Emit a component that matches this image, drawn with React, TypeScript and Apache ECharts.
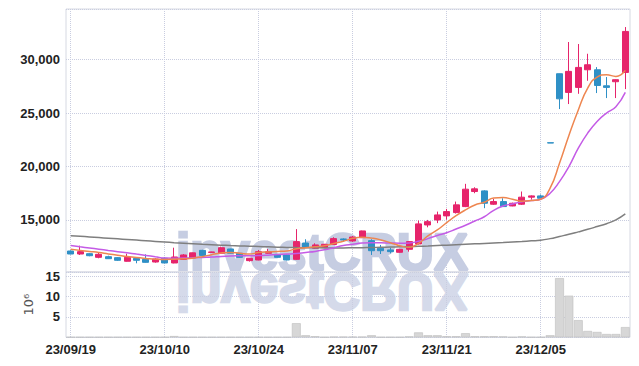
import React, { useEffect, useRef } from "react";
import * as echarts from "echarts";

const dates = ['23/09/19','23/09/20','23/09/21','23/09/22','23/09/25','23/09/26','23/09/27','23/10/04','23/10/05','23/10/06','23/10/10','23/10/11','23/10/12','23/10/13','23/10/16','23/10/17','23/10/18','23/10/19','23/10/20','23/10/23','23/10/24','23/10/25','23/10/26','23/10/27','23/10/30','23/10/31','23/11/01','23/11/02','23/11/03','23/11/06','23/11/07','23/11/08','23/11/09','23/11/10','23/11/13','23/11/14','23/11/15','23/11/16','23/11/17','23/11/20','23/11/21','23/11/22','23/11/23','23/11/24','23/11/27','23/11/28','23/11/29','23/11/30','23/12/01','23/12/04','23/12/05','23/12/06','23/12/07','23/12/08','23/12/11','23/12/12','23/12/13','23/12/14','23/12/15','23/12/18'];

const opens = [12090,11810,11840,11500,11560,11470,11130,11400,11310,11060,11410,10970,11300,11430,12150,11960,11880,12280,11880,11190,11250,11880,11780,11720,11310,12840,12350,12440,12700,13220,13030,13340,13060,12350,12190,11970,12250,12750,14530,15000,15380,15690,16250,17660,17720,16470,16720,16310,16470,17130,17250,22230,28690,26940,27410,29060,29060,27560,27940,28810];
const closes = [11810,12030,11650,11780,11370,11220,11500,11220,11030,11340,10970,11530,11720,11920,11680,12000,12400,11880,11500,11410,12030,12030,11500,11250,12970,12440,12660,12720,13250,13130,13400,13970,12120,12120,12030,12250,12970,14630,14840,15470,15780,16410,17880,17910,16560,16720,16250,16560,17130,17250,17030,22200,26340,28910,29280,29530,27590,27410,28130,32650];
const lows = [11780,11720,11600,11410,11340,11160,11100,10940,11000,11000,10940,10940,11250,11400,11650,11930,11850,11850,11470,11100,11220,11850,11470,11220,11250,12400,12300,12400,12660,12970,12950,13300,11720,11810,11870,11940,12030,12700,14310,14700,15030,15600,16200,17500,16100,16410,16220,16280,16400,16900,17000,22200,25380,25850,26810,28030,26880,26410,26410,27250];
const highs = [12150,12590,11900,11900,11650,11530,11840,11470,11780,11400,11500,12400,11800,11950,12200,12020,12500,12300,11900,11440,12190,12280,11800,11750,14140,13190,12810,12750,13380,13280,13500,14000,13190,12660,12400,12280,13000,14940,15000,15780,16030,16720,18380,18060,17780,16970,17030,16620,17660,17300,17380,22230,28700,31660,31470,30560,29310,28380,28160,33060];

const maShort = [12250,12150,12050,11950,11820,11700,11580,11480,11400,11330,11300,11320,11360,11420,11560,11750,11900,11960,11880,11800,11950,12000,12050,12100,12300,12400,12480,12590,12800,13000,13280,13380,13300,13130,12870,12590,12440,12810,13500,14060,14750,15400,15940,16400,16650,17050,17090,16940,16750,16810,16940,17970,20300,22900,25300,27340,28380,28590,28440,29000];
const maMid = [12600,12480,12370,12260,12140,12030,11920,11800,11680,11550,11430,11420,11430,11460,11490,11520,11580,11620,11640,11650,11660,11700,11760,11800,11850,11950,12050,12200,12400,12600,12720,12830,12870,12860,12840,12820,12850,13000,13250,13550,13800,14150,14500,14900,15300,15900,16300,16500,16690,16810,16940,17500,18590,20000,21720,23130,24220,25000,25600,26940];
const maLong = [13530,13470,13410,13350,13290,13230,13170,13110,13050,12990,12930,12870,12820,12770,12720,12680,12640,12600,12570,12540,12510,12480,12450,12430,12410,12400,12390,12380,12380,12380,12390,12400,12420,12440,12460,12480,12500,12530,12560,12600,12640,12680,12720,12760,12800,12840,12880,12930,12980,13040,13100,13250,13450,13650,13880,14120,14380,14650,15000,15560];

const volumes = [0.05,0.05,0.05,0.05,0.05,0.05,0.05,0.05,0.05,0.05,0.05,0.3,0.05,0.05,0.05,0.05,0.05,0.05,0.05,0.05,0.05,0.05,0.05,0.05,3.45,0.5,0.25,0.05,0.15,0.15,0.15,0.15,0.5,0.05,0.05,0.05,0.2,1.2,0.5,0.5,0.25,0.25,1.0,0.25,0.25,0.25,0.2,0.05,0.2,0.05,0.05,0.5,14.5,10.2,4.2,1.55,1.3,0.8,0.8,2.5];

const priceMin = 10125;
const priceMax = 34750;
const volumeMax = 16;
const watermark = "investCRUX";

const UP = "#e6246b";
const DOWN = "#2f90c6";
const GRID_LINE = "#c9cde0";
const LABEL_FONT = '"Liberation Sans", Arial, sans-serif';

export default function App() {
  const ref = useRef<HTMLDivElement>(null);
  useEffect(() => {
    document.body.style.margin = "0";
    const chart = echarts.init(ref.current!, null, { renderer: "svg" });
    const candleData = opens.map((o, i) => [o, closes[i], lows[i], highs[i]]);
    const labelStyle = { color: "#222", fontFamily: LABEL_FONT, fontSize: 13, fontWeight: "bold" as const };
    const wmStyle = { text: watermark, fontSize: 51, fontWeight: "bold", fontFamily: '"Liberation Sans", Arial, sans-serif', align: "left", verticalAlign: "middle", lineWidth: 2.5 };
    chart.setOption({
      animation: false,
      backgroundColor: "#fff",
      graphic: {
        z: -5,
        elements: [
          { type: "text", x: 176, y: 252, z: -5, silent: true, style: { ...wmStyle, fill: "#c6cde2", stroke: "#c6cde2" } },
          { type: "text", x: 176, y: 291, scaleY: -1, z: -5, silent: true, style: { ...wmStyle, fill: "#d5daea", stroke: "#d5daea" } },
        ],
      },
      grid: [
        { left: 66, right: 9, top: 9, height: 263, show: true, borderColor: "#d6d9e2", borderWidth: 1, backgroundColor: "transparent" },
        { left: 66, right: 9, top: 272, height: 65.3, show: true, borderColor: "#d6d9e2", borderWidth: 1, backgroundColor: "transparent" },
      ],
      xAxis: [
        {
          type: "category", data: dates, gridIndex: 0, boundaryGap: true,
          axisLine: { show: false }, axisTick: { show: false }, axisLabel: { show: false },
          splitLine: { show: true, interval: 9, alignWithLabel: true, lineStyle: { color: GRID_LINE, type: "dotted" } },
        },
        {
          type: "category", data: dates, gridIndex: 1, boundaryGap: true,
          axisLine: { show: false }, axisTick: { show: false },
          axisLabel: { ...labelStyle, interval: 9, margin: 6 },
          splitLine: { show: true, interval: 9, alignWithLabel: true, lineStyle: { color: GRID_LINE, type: "dotted" } },
        },
      ],
      yAxis: [
        {
          type: "value", gridIndex: 0, min: priceMin, max: priceMax, splitNumber: 5, scale: true,
          axisLine: { show: false }, axisTick: { show: false },
          axisLabel: { ...labelStyle, margin: 6, showMinLabel: false, showMaxLabel: false, formatter: (v: number) => v.toLocaleString("en-US") },
          splitLine: { show: true, lineStyle: { color: GRID_LINE, type: "dotted" } },
        },
        {
          type: "value", gridIndex: 1, min: 0, max: volumeMax, interval: 5,
          name: "10⁶", nameLocation: "middle", nameGap: 25, nameRotate: 90,
          nameTextStyle: { color: "#555", fontSize: 13, fontFamily: '"DejaVu Sans", sans-serif' },
          axisLine: { show: false }, axisTick: { show: false },
          axisLabel: { ...labelStyle, margin: 6, showMinLabel: false, showMaxLabel: false },
          splitLine: { show: true, lineStyle: { color: GRID_LINE, type: "dotted" } },
        },
      ],
      series: [
        {
          type: "candlestick", xAxisIndex: 0, yAxisIndex: 0, data: candleData, barWidth: "70%", z: 5,
          itemStyle: { color: UP, color0: DOWN, borderColor: UP, borderColor0: DOWN, borderWidth: 1 },
        },
        { type: "line", xAxisIndex: 0, yAxisIndex: 0, data: maLong, smooth: true, showSymbol: false, z: 6, lineStyle: { color: "#7f7f7f", width: 1.5 } },
        { type: "line", xAxisIndex: 0, yAxisIndex: 0, data: maMid, smooth: true, showSymbol: false, z: 6, lineStyle: { color: "#c45be6", width: 1.5 } },
        { type: "line", xAxisIndex: 0, yAxisIndex: 0, data: maShort, smooth: true, showSymbol: false, z: 6, lineStyle: { color: "#ee8650", width: 1.5 } },
        {
          type: "bar", xAxisIndex: 1, yAxisIndex: 1, data: volumes, barCategoryGap: "6%", z: 5,
          itemStyle: { color: "#d7d7d7", borderColor: "#bdbdbd", borderWidth: 0.6 },
        },
      ],
    });
    return () => chart.dispose();
  }, []);
  return <div ref={ref} style={{ width: 639, height: 366, position: "fixed", left: 0, top: 0 }} />;
}
